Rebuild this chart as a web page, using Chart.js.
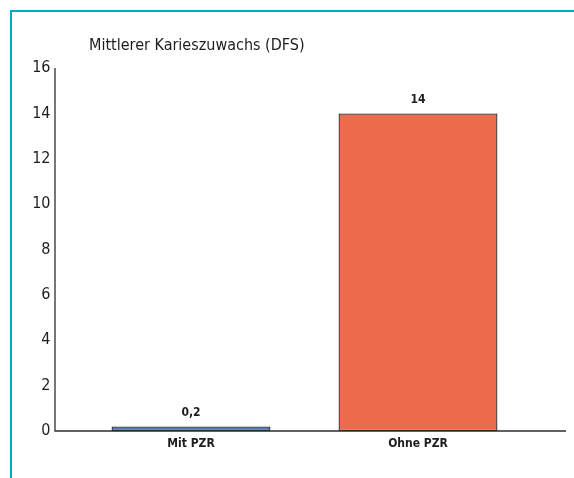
<!DOCTYPE html>
<html lang="de">
<head>
<meta charset="utf-8">
<title>Mittlerer Karieszuwachs (DFS)</title>
<script src="https://cdn.jsdelivr.net/npm/chart.js@4/dist/chart.umd.min.js"></script>
<style>
  html, body { margin: 0; padding: 0; background: #ffffff; }
  canvas { display: block; }
</style>
</head>
<body>
<canvas id="chart" width="574" height="478"></canvas>
<script>
// Data
const categories = ['Mit PZR', 'Ohne PZR'];
const cariesIncrease = [0.2, 14];
const barColors = ['#4a78b4', '#ec6b4d'];
const titleText = 'Mittlerer Karieszuwachs (DFS)';
const yMin = 0;
const yMax = 16;
const yStep = 2;

const narrow = '"Liberation Sans Narrow", "DejaVu Sans Condensed", "Roboto Condensed", "Arial Narrow", Arial, sans-serif';
const textColor = '#1e1e1e';
const axisColor = '#2e2e2e';
const frameColor = '#00a8c4';

// how far the drawn axis lines reach past the plot area
const axisLeftGap = 22.5;
const axisRightExtra = 34.5;

const formatDe = v => v.toLocaleString('de-DE');

const framePlugin = {
  id: 'frame',
  beforeDraw(chart) {
    const ctx = chart.ctx;
    ctx.save();
    ctx.strokeStyle = frameColor;
    ctx.lineWidth = 2;
    ctx.beginPath();
    ctx.moveTo(11, chart.height);
    ctx.lineTo(11, 11);
    ctx.lineTo(chart.width, 11);
    ctx.stroke();
    ctx.restore();
  }
};

const axesPlugin = {
  id: 'axesLines',
  afterDatasetsDraw(chart) {
    const { ctx, chartArea } = chart;
    const x0 = chartArea.left - axisLeftGap;
    ctx.save();
    ctx.strokeStyle = axisColor;
    ctx.lineWidth = 1.3;
    ctx.beginPath();
    ctx.moveTo(x0, chartArea.top);
    ctx.lineTo(x0, chartArea.bottom);
    ctx.lineTo(chartArea.right + axisRightExtra, chartArea.bottom);
    ctx.stroke();

    // heading, aligned from the value axis
    ctx.fillStyle = textColor;
    ctx.font = '16px ' + narrow;
    ctx.textAlign = 'left';
    ctx.textBaseline = 'middle';
    ctx.fillText(titleText, x0 + 34, 46);
    ctx.restore();
  }
};

const valueLabelPlugin = {
  id: 'valueLabels',
  afterDatasetsDraw(chart) {
    const { ctx } = chart;
    const meta = chart.getDatasetMeta(0);
    ctx.save();
    ctx.fillStyle = textColor;
    ctx.font = 'bold 12px ' + narrow;
    ctx.textAlign = 'center';
    ctx.textBaseline = 'middle';
    meta.data.forEach((bar, i) => {
      ctx.fillText(formatDe(cariesIncrease[i]), bar.x, bar.y - 14);
    });
    ctx.restore();
  }
};

new Chart(document.getElementById('chart'), {
  type: 'bar',
  data: {
    labels: categories,
    datasets: [{
      data: cariesIncrease,
      backgroundColor: barColors,
      borderColor: '#2a2a2a',
      borderWidth: 1.3,
      borderSkipped: false,
      categoryPercentage: 1,
      barPercentage: 0.7
    }]
  },
  options: {
    responsive: false,
    animation: false,
    layout: { padding: { top: 68, right: 42.5, bottom: 0, left: 0 } },
    plugins: {
      legend: { display: false },
      title: { display: false },
      tooltip: { enabled: false }
    },
    scales: {
      x: {
        offset: true,
        grid: { display: false, drawTicks: false },
        border: { display: false },
        ticks: {
          color: textColor,
          padding: 6,
          font: { family: narrow, size: 12, weight: 'bold' }
        },
        afterFit(scale) { scale.height = 47; }
      },
      y: {
        min: yMin,
        max: yMax,
        grid: { display: false, drawTicks: false },
        border: { display: false },
        ticks: {
          stepSize: yStep,
          color: textColor,
          padding: 27,
          font: { family: narrow, size: 16 },
          callback: v => formatDe(v)
        },
        afterFit(scale) { scale.width = 77.5; }
      }
    }
  },
  plugins: [framePlugin, axesPlugin, valueLabelPlugin]
});
</script>
</body>
</html>
